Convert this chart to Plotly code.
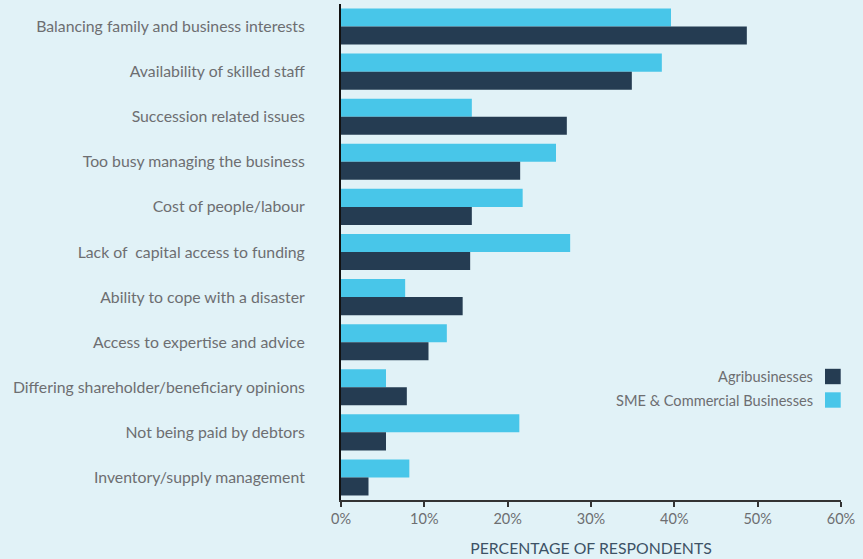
import plotly.graph_objects as go

# Challenges reported by respondents, top to bottom
categories = [
    "Balancing family and business interests",
    "Availability of skilled staff",
    "Succession related issues",
    "Too busy managing the business",
    "Cost of people/labour",
    "Lack of  capital access to funding",
    "Ability to cope with a disaster",
    "Access to expertise and advice",
    "Differing shareholder/beneficiary opinions",
    "Not being paid by debtors",
    "Inventory/supply management",
]
sme_pct = [39.6, 38.5, 15.7, 25.8, 21.8, 27.5, 7.7, 12.7, 5.4, 21.4, 8.2]
agri_pct = [48.7, 34.9, 27.1, 21.5, 15.7, 15.5, 14.6, 10.5, 7.9, 5.4, 3.3]
x_ticks = [0, 10, 20, 30, 40, 50, 60]

BG = "#e1f2f7"
DARK = "#253c52"
LIGHT = "#48c6e9"
TEXT = "#6d6e71"
FONT = "Lato"

fig = go.Figure()
fig.add_trace(go.Bar(y=categories, x=sme_pct, orientation="h", name="SME & Commercial Businesses",
                     marker=dict(color=LIGHT, line=dict(width=0))))
fig.add_trace(go.Bar(y=categories, x=agri_pct, orientation="h", name="Agribusinesses",
                     marker=dict(color=DARK, line=dict(width=0))))

fig.update_layout(
    width=863, height=559,
    margin=dict(l=341, r=22, t=4, b=59),
    paper_bgcolor=BG, plot_bgcolor=BG,
    barmode="group", bargap=0.2, bargroupgap=0,
    showlegend=False,
    font=dict(family=FONT, color=TEXT, size=14),
    xaxis=dict(
        range=[0, 60], tickvals=x_ticks, ticktext=[f"{v}%" for v in x_ticks],
        showgrid=False, zeroline=False,
        showline=True, linecolor="#333333", linewidth=1.5,
        ticks="outside", ticklen=5, tickwidth=1.5, tickcolor="#333333",
        tickfont=dict(size=14.5, color=TEXT),
        title=dict(text="PERCENTAGE OF RESPONDENTS", standoff=17,
                   font=dict(size=15.8, color="#3d5266")),
    ),
    yaxis=dict(
        autorange="reversed", showgrid=False, zeroline=False,
        showline=True, linecolor="#111111", linewidth=2,
        ticks="", ticklabelstandoff=31,
        tickfont=dict(size=15.8, color=TEXT),
    ),
)

# Legend: labels right-aligned with colour swatches on their right
legend_items = [("Agribusinesses", DARK, 376.5), ("SME & Commercial Businesses", LIGHT, 400)]
for label, color, yc in legend_items:
    y_paper = 1 - (yc - 4) / (559 - 4 - 59)
    h = 7.7 / (559 - 4 - 59)
    x0 = (825 - 341) / (863 - 341 - 22)
    x1 = (840.7 - 341) / (863 - 341 - 22)
    fig.add_shape(type="rect", xref="paper", yref="paper", x0=x0, x1=x1,
                  y0=y_paper - h, y1=y_paper + h, fillcolor=color, line=dict(width=0))
    fig.add_annotation(text=label, xref="paper", yref="paper",
                       x=(815 - 341) / (863 - 341 - 22), y=y_paper,
                       xanchor="right", yanchor="middle", showarrow=False,
                       font=dict(size=14.6, color=TEXT))

fig.write_html("out.html")
